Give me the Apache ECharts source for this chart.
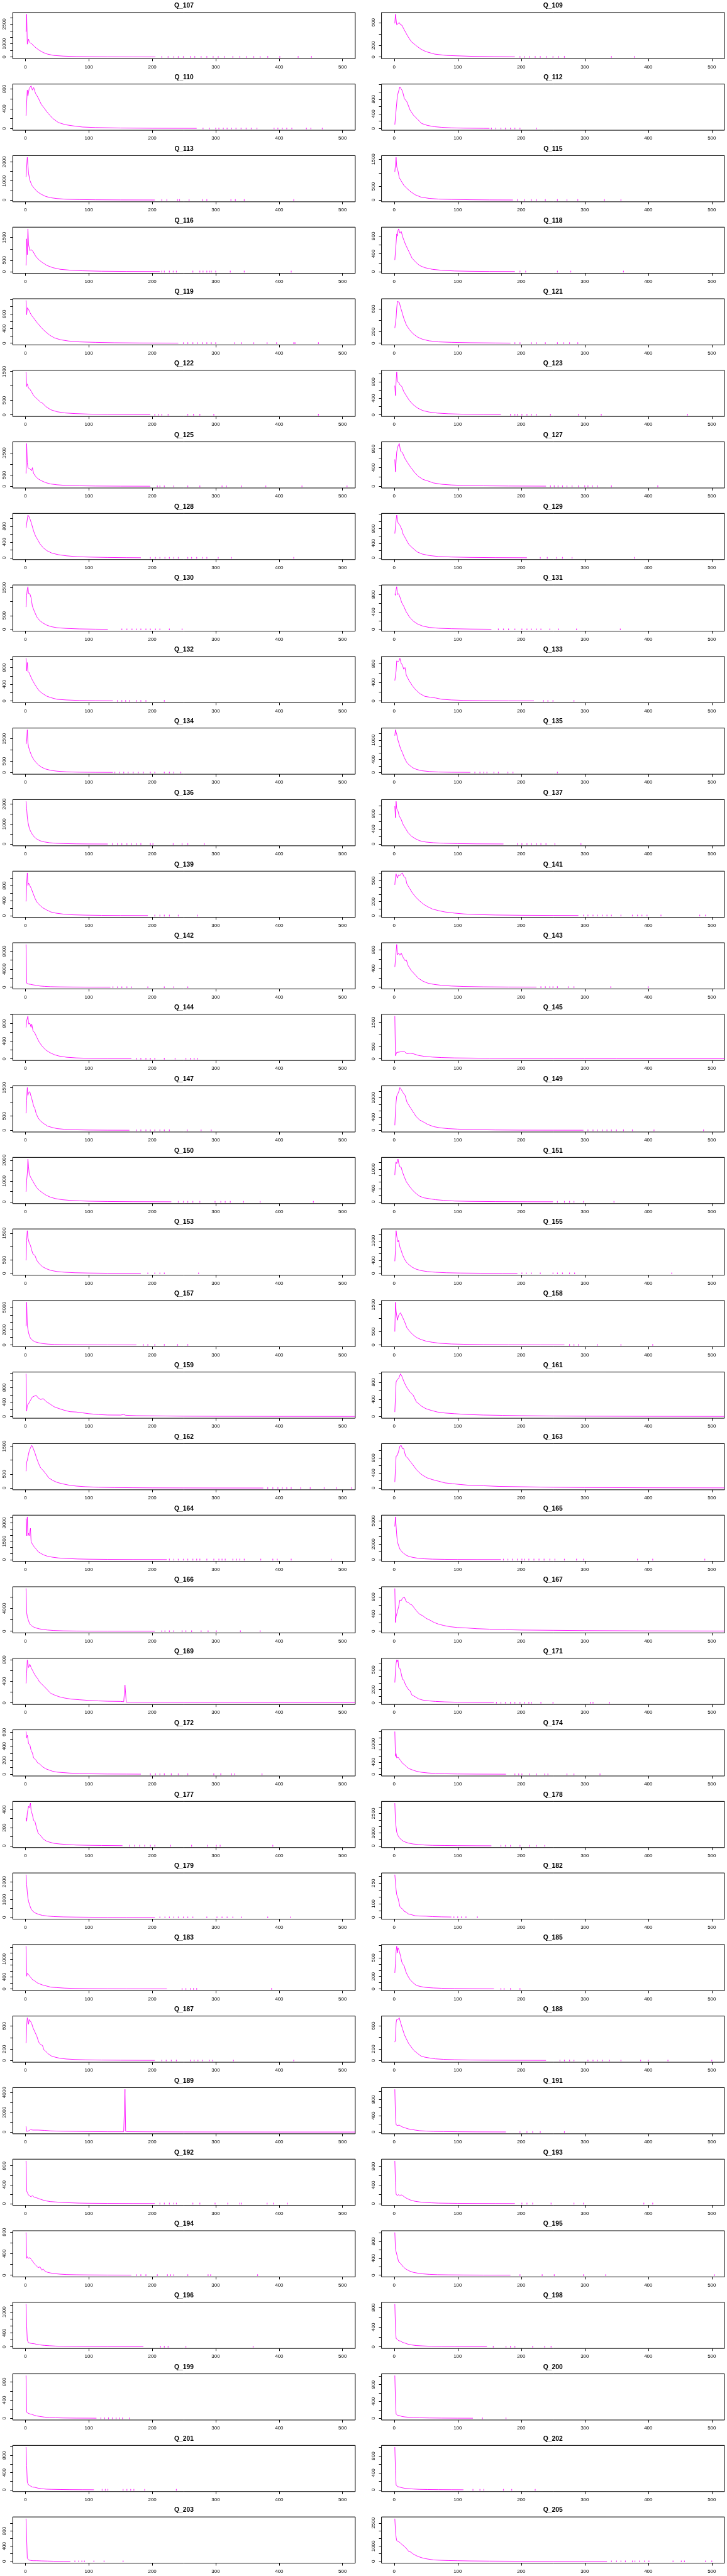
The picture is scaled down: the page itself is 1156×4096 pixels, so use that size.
<!DOCTYPE html>
<html>
<head>
<meta charset="utf-8">
<script src="https://cdn.jsdelivr.net/npm/echarts@6/dist/echarts.min.js"></script>
<style>html,body{margin:0;padding:0;background:#fff}#chart{width:1156px;height:4096px}</style>
</head>
<body>
<div id="chart"></div>
<script>
// ---- data (x, count); tail = x positions of isolated near-zero marks ----
const xTicks = [0, 100, 200, 300, 400, 500];

const Q_107 = {yStep: 500, yLabels: [0, 1000, 2500], line: [[1,1920],[2,3250],[3,975],[5,1360],[6,1160],[8,1060],[10,1010],[13,850],[17,680],[22,505],[28,340],[35,215],[45,114],[60,63],[80,32],[100,20],[130,10],[170,4],[205,2]], tail: [215,225,234,241,249,260,267,277,286,296,304,314,327,338,349,360,370,382,401,430,451]};
const Q_109 = {yStep: 200, yLabels: [0, 200, 600], line: [[1,585],[2,745],[4,560],[5,540],[8,600],[10,560],[12,555],[16,470],[21,368],[27,266],[35,194],[42,136],[50,93],[64,49],[83,26],[120,12],[157,6],[190,3]], tail: [198,205,213,222,230,240,250,259,268,342,378]};
const Q_110 = {yStep: 200, yLabels: [0, 400, 800], line: [[1,260],[3,777],[4,660],[6,810],[9,864],[11,777],[13,830],[16,710],[20,625],[25,490],[30,405],[36,305],[43,205],[52,121],[63,77],[75,54],[90,30],[110,20],[150,10],[200,5],[270,3]], tail: [280,290,300,305,312,318,325,332,340,348,356,365,392,398,405,412,420,443,450,468]};
const Q_112 = {yStep: 200, yLabels: [0, 400, 800], line: [[1,105],[3,505],[5,890],[7,1025],[9,1140],[10,1168],[13,1025],[16,820],[20,730],[25,505],[30,370],[36,268],[43,140],[52,86],[63,50],[75,32],[90,18],[110,10],[140,5],[150,3]], tail: [153,160,168,175,183,190,198,224]};
const Q_113 = {yStep: 500, yLabels: [0, 1000, 2000], line: [[1,1218],[3,2235],[4,1826],[5,1391],[7,1043],[10,783],[14,609],[19,435],[25,304],[32,191],[40,122],[50,78],[65,43],[85,26],[110,15],[150,8],[204,4]], tail: [215,223,240,243,258,279,286,324,331,345,423]};
const Q_115 = {yStep: 500, yLabels: [0, 500, 1500], line: [[1,1036],[3,1567],[4,1220],[6,1067],[8,823],[11,701],[15,549],[20,427],[26,305],[33,195],[42,110],[55,61],[70,37],[90,24],[120,12],[150,6],[187,3]], tail: [194,205,216,224,238,257,272,289,331,357]};
const Q_116 = {yStep: 500, yLabels: [0, 500, 1500], line: [[1,271],[2,1441],[3,746],[4,1880],[5,1185],[7,929],[9,965],[12,892],[16,688],[21,527],[27,395],[34,271],[43,176],[55,102],[70,66],[90,37],[120,18],[160,9],[212,4]], tail: [215,219,227,233,238,264,275,280,286,290,293,300,323,345,419]};
const Q_118 = {yStep: 200, yLabels: [0, 400, 800], line: [[1,262],[3,643],[4,849],[5,800],[6,924],[7,961],[9,867],[11,905],[14,755],[18,605],[23,456],[28,306],[34,213],[40,138],[48,90],[60,52],[75,30],[95,15],[120,8],[150,4],[190,2]], tail: [198,207,257,278,361]};
const Q_119 = {yStep: 200, yLabels: [0, 400, 800], line: [[1,1168],[2,777],[3,968],[5,923],[7,845],[10,754],[14,664],[19,550],[25,427],[31,323],[38,223],[45,150],[55,95],[68,59],[85,36],[110,23],[140,12],[180,6],[241,3]], tail: [249,256,264,271,279,286,293,300,330,341,360,381,396,423,425,462]};
const Q_121 = {yStep: 200, yLabels: [0, 200, 600], line: [[1,265],[3,440],[4,613],[5,731],[6,748],[8,716],[10,628],[12,556],[15,440],[19,323],[24,236],[30,163],[37,105],[45,67],[55,41],[70,23],[90,15],[120,8],[160,4],[183,2]], tail: [190,198,216,224,238,257,267,276,289]};
const Q_122 = {yStep: 500, yLabels: [0, 500, 1500], line: [[1,1483],[2,981],[3,1068],[5,923],[7,894],[10,779],[13,663],[17,577],[20,519],[24,433],[27,404],[32,288],[40,173],[50,104],[62,63],[78,40],[100,23],[130,12],[170,6],[197,3]], tail: [204,210,215,225,256,265,275,297,462]};
const Q_123 = {yStep: 200, yLabels: [0, 400, 800], line: [[1,707],[2,464],[3,808],[4,1038],[5,808],[7,788],[9,727],[12,687],[15,566],[19,464],[24,343],[30,242],[37,162],[45,101],[55,65],[68,40],[85,24],[110,13],[140,7],[168,3]], tail: [183,190,194,201,209,216,224,246,290,326,462]};
const Q_125 = {yStep: 500, yLabels: [0, 500, 1500], line: [[1,575],[2,1918],[3,1060],[4,836],[6,798],[8,761],[10,701],[11,836],[13,575],[16,448],[20,336],[25,254],[32,164],[40,104],[50,67],[65,37],[85,22],[110,12],[150,6],[197,3]], tail: [208,212,219,234,256,275,310,317,341,379,436,507]};
const Q_127 = {yStep: 200, yLabels: [0, 400, 800], line: [[1,575],[2,309],[3,540],[4,735],[6,860],[8,913],[10,750],[13,718],[17,593],[21,505],[26,405],[32,298],[38,213],[45,149],[53,114],[62,71],[75,43],[90,28],[110,18],[140,10],[180,6],[239,3]], tail: [246,252,258,265,272,280,290,300,305,312,320,342,415]};
const Q_128 = {yStep: 200, yLabels: [0, 400, 800], line: [[1,760],[3,972],[4,1082],[6,1035],[8,951],[10,846],[13,677],[16,551],[19,467],[23,354],[28,257],[34,181],[42,118],[52,80],[65,51],[82,29],[100,20],[130,10],[160,5],[182,3]], tail: [197,205,212,220,227,234,241,256,262,270,279,286,304,325,423]};
const Q_129 = {yStep: 200, yLabels: [0, 400, 800], line: [[1,663],[3,1027],[4,1168],[6,959],[9,890],[12,777],[14,650],[18,527],[23,368],[29,268],[36,164],[44,105],[55,64],[70,36],[90,23],[120,12],[160,6],[209,3]], tail: [230,241,256,265,280,378]};
const Q_130 = {yStep: 500, yLabels: [0, 500, 1500], line: [[1,810],[2,1230],[3,1440],[4,1542],[5,1290],[7,1290],[9,1141],[11,840],[14,660],[18,450],[22,330],[27,240],[33,162],[40,102],[50,60],[65,36],[85,18],[110,9],[130,5]], tail: [152,160,168,175,182,190,197,205,212,227,247]};
const Q_131 = {yStep: 200, yLabels: [0, 400, 800], line: [[1,818],[2,781],[3,914],[4,979],[5,800],[7,818],[9,743],[12,609],[15,533],[19,400],[24,285],[30,190],[37,122],[45,76],[55,46],[70,27],[90,16],[120,8],[153,4]], tail: [164,172,180,190,201,209,216,224,231,245,259,287,356]};
const Q_132 = {yStep: 200, yLabels: [0, 400, 800], line: [[1,1024],[2,720],[3,920],[4,700],[6,680],[8,600],[11,500],[14,420],[18,320],[22,240],[27,180],[33,120],[40,80],[50,40],[65,24],[85,12],[110,6],[138,3]], tail: [145,152,158,164,175,182,190,219]};
const Q_133 = {yStep: 200, yLabels: [0, 400, 800], line: [[1,438],[3,646],[4,862],[6,844],[8,870],[9,919],[11,808],[13,772],[15,682],[17,718],[19,556],[23,449],[28,341],[33,251],[40,162],[48,100],[57,79],[65,65],[75,36],[90,22],[110,12],[140,6],[180,3],[220,2]], tail: [235,242,250,283]};
const Q_134 = {yStep: 500, yLabels: [0, 500, 1500], line: [[1,1264],[2,1397],[3,1900],[4,1323],[5,1140],[7,954],[10,732],[13,584],[17,436],[21,325],[26,229],[32,155],[40,96],[50,59],[65,30],[85,15],[110,8],[138,4]], tail: [141,148,155,162,170,178,186,197,204,219,227,234,245]};
const Q_135 = {yStep: 200, yLabels: [0, 400, 1000], line: [[1,1134],[2,1318],[3,1303],[4,1174],[6,995],[8,867],[10,738],[13,611],[16,456],[20,303],[24,226],[29,149],[35,97],[43,56],[55,31],[70,16],[90,8],[120,4]], tail: [127,135,141,146,157,164,179,187,257]};
const Q_136 = {yStep: 500, yLabels: [0, 1000, 2000], line: [[1,2131],[2,1766],[3,1351],[4,1103],[6,813],[8,647],[11,481],[14,357],[18,249],[23,166],[30,108],[38,66],[48,41],[60,25],[80,12],[100,6],[130,3]], tail: [137,145,152,160,167,175,182,197,201,233,247,256,282]};
const Q_137 = {yStep: 200, yLabels: [0, 400, 800], line: [[1,998],[2,692],[3,1125],[4,933],[6,867],[8,736],[11,648],[14,517],[18,407],[22,298],[27,210],[33,144],[40,88],[50,53],[62,35],[78,22],[100,12],[130,6],[172,3]], tail: [194,201,209,216,224,231,239,253,294]};
const Q_139 = {yStep: 200, yLabels: [0, 400, 800], line: [[1,378],[2,845],[3,1138],[4,800],[5,867],[7,800],[9,733],[12,600],[15,467],[18,364],[22,289],[27,213],[33,156],[40,98],[48,67],[60,40],[75,22],[95,13],[120,7],[150,4],[193,2]], tail: [204,212,219,227,241,271]};
const Q_141 = {yStep: 100, yLabels: [0, 200, 500], line: [[1,440],[2,548],[3,596],[5,536],[7,584],[9,571],[11,596],[13,610],[15,560],[18,536],[20,452],[24,393],[28,333],[33,274],[38,226],[45,171],[52,131],[60,95],[70,71],[80,52],[95,36],[110,24],[130,15],[160,9],[200,5],[250,3],[290,2]], tail: [298,305,313,320,328,335,342,357,375,383,390,398,420,481,490]};
const Q_142 = {yStep: 2000, yLabels: [0, 4000, 8000], line: [[1,9481],[2,890],[5,700],[8,630],[12,520],[17,410],[23,260],[30,185],[40,110],[55,70],[75,40],[100,22],[134,10]], tail: [138,145,152,160,167,193,219,234,256]};
const Q_143 = {yStep: 200, yLabels: [0, 400, 800], line: [[1,432],[3,746],[4,914],[5,693],[7,729],[9,682],[11,729],[14,639],[17,568],[19,586],[22,461],[27,354],[32,282],[38,193],[45,129],[53,86],[62,61],[75,39],[90,25],[110,15],[140,8],[180,4],[224,3]], tail: [231,238,245,250,257,274,283,341,400]};
const Q_144 = {yStep: 200, yLabels: [0, 400, 800], line: [[1,713],[2,865],[4,972],[5,790],[7,807],[9,713],[10,790],[12,638],[15,581],[18,486],[22,372],[27,277],[32,201],[38,144],[45,95],[53,61],[65,34],[80,19],[100,10],[130,5],[167,3]], tail: [175,182,190,197,204,219,236,253,260,266,271]};
const Q_145 = {yStep: 500, yLabels: [0, 500, 1500], line: [[1,1762],[2,124],[4,262],[8,275],[12,296],[16,296],[20,206],[25,227],[30,206],[38,138],[48,96],[60,69],[75,48],[95,34],[120,28],[150,20],[200,12],[250,8],[300,5],[350,3],[420,2],[520,1]], tail: []};
const Q_147 = {yStep: 500, yLabels: [0, 500, 1500], line: [[1,600],[2,1055],[3,1506],[4,1235],[5,1323],[7,1365],[8,1265],[10,1118],[13,853],[15,765],[17,588],[20,441],[24,324],[29,235],[35,147],[42,100],[50,59],[62,35],[78,18],[100,9],[130,4],[164,2]], tail: [175,182,190,197,204,212,219,227,255,277,293]};
const Q_149 = {yStep: 200, yLabels: [0, 400, 1000], line: [[1,154],[2,565],[3,872],[4,1051],[6,1130],[8,1231],[9,1313],[11,1257],[14,1154],[17,1077],[20,872],[24,744],[29,590],[34,436],[40,318],[46,256],[53,179],[62,113],[72,77],[85,51],[100,36],[125,21],[160,10],[200,5],[250,3],[298,2]], tail: [305,313,320,328,335,342,350,361,375,409,487]};
const Q_150 = {yStep: 500, yLabels: [0, 1000, 2000], line: [[1,489],[2,1035],[3,1355],[4,2053],[5,1676],[6,1355],[8,1195],[11,1035],[14,874],[18,674],[22,553],[27,433],[33,313],[40,217],[48,152],[58,104],[70,72],[85,48],[100,32],[130,17],[170,9],[230,4]], tail: [241,249,256,264,275,299,308,315,323,344,370,454]};
const Q_151 = {yStep: 200, yLabels: [0, 400, 1000], line: [[1,819],[2,1140],[3,1216],[4,1166],[6,1303],[7,1191],[9,1064],[11,1054],[13,912],[16,758],[19,616],[23,504],[28,377],[33,275],[40,173],[47,122],[55,97],[65,66],[78,46],[95,25],[120,15],[160,8],[210,4],[250,3]], tail: [257,268,276,283,298,346]};
const Q_153 = {yStep: 500, yLabels: [0, 500, 1500], line: [[1,486],[2,1232],[3,1593],[4,1325],[6,1139],[8,1045],[10,859],[12,722],[15,672],[18,486],[22,361],[27,249],[33,174],[40,112],[50,68],[62,44],[78,25],[100,14],[130,6],[182,3]], tail: [193,204,212,219,273]};
const Q_155 = {yStep: 200, yLabels: [0, 400, 1000], line: [[1,372],[2,704],[3,1306],[4,1138],[6,959],[7,1010],[9,806],[11,704],[13,577],[16,449],[19,347],[23,270],[28,194],[34,133],[42,87],[52,56],[65,36],[82,20],[105,11],[135,6],[170,3],[194,2]], tail: [201,208,216,230,250,257,265,276,284,437]};
const Q_157 = {yStep: 1000, yLabels: [0, 2000, 5000], line: [[1,2511],[2,5689],[3,2622],[4,2511],[5,1622],[7,1067],[9,778],[12,578],[16,400],[21,289],[28,178],[36,111],[46,67],[60,44],[80,25],[100,15],[130,8],[175,4]], tail: [186,193,204,219,240,256]};
const Q_158 = {yStep: 500, yLabels: [0, 500, 1500], line: [[1,498],[2,1593],[3,1263],[5,921],[7,1108],[10,1201],[13,1045],[16,890],[20,641],[24,517],[29,392],[35,280],[42,205],[50,143],[60,100],[72,62],[90,37],[110,25],[140,14],[180,8],[230,4],[268,2]], tail: [276,283,290,320,357,407]};
const Q_159 = {yStep: 200, yLabels: [0, 400, 800], line: [[1,1182],[2,148],[3,310],[5,355],[8,448],[11,540],[14,563],[17,587],[20,517],[24,471],[28,494],[33,411],[38,355],[45,272],[52,226],[60,180],[70,134],[80,125],[90,102],[100,78],[115,55],[130,42],[150,40],[155,55],[158,35],[175,23],[200,19],[250,9],[300,6],[400,3],[520,2]], tail: []};
const Q_161 = {yStep: 200, yLabels: [0, 400, 800], line: [[1,105],[2,456],[3,808],[5,865],[7,885],[9,963],[10,998],[12,943],[15,828],[18,729],[21,651],[25,573],[30,495],[35,339],[38,308],[43,242],[50,183],[58,144],[68,105],[80,82],[95,66],[115,47],[140,35],[170,27],[200,20],[250,12],[300,8],[400,4],[520,2]], tail: []};
const Q_162 = {yStep: 500, yLabels: [0, 500, 1500], line: [[1,604],[2,933],[3,992],[4,1112],[6,1321],[8,1440],[10,1530],[12,1440],[15,1261],[18,1052],[21,872],[24,723],[28,633],[32,514],[37,364],[43,275],[50,203],[58,155],[68,108],[80,72],[95,48],[115,30],[140,18],[170,12],[200,8],[250,5],[300,3],[375,2]], tail: [382,390,398,405,412,419,434,449,471,490,514]};
const Q_163 = {yStep: 200, yLabels: [0, 400, 800], line: [[1,159],[2,512],[3,843],[5,865],[7,976],[9,1108],[11,1130],[13,1042],[15,1042],[18,843],[21,799],[25,711],[30,601],[35,490],[40,402],[45,336],[52,269],[60,225],[70,181],[80,137],[92,115],[105,93],[120,71],[140,62],[165,44],[200,35],[250,22],[300,14],[400,8],[520,5]], tail: []};
const Q_164 = {yStep: 500, yLabels: [0, 1500, 3000], line: [[1,3355],[2,1950],[3,3491],[4,1950],[5,2155],[6,1950],[8,2563],[9,1473],[11,1268],[14,1036],[17,859],[20,655],[24,518],[29,382],[35,273],[42,205],[52,136],[65,95],[82,55],[100,35],[130,20],[170,10],[223,5]], tail: [227,234,241,249,256,264,270,275,286,297,305,310,315,327,333,338,345,371,390,397,419,482]};
const Q_165 = {yStep: 1000, yLabels: [0, 2000, 5000], line: [[1,4257],[2,5505],[3,4365],[4,3183],[5,2323],[7,1785],[9,1355],[12,1032],[15,817],[19,559],[24,387],[30,280],[38,172],[48,108],[60,65],[80,35],[100,22],[130,12],[168,6]], tail: [172,179,186,194,201,205,212,220,228,236,245,253,268,287,298,383,407,489]};
const Q_166 = {yStep: 2000, yLabels: [0, 4000], line: [[1,7475],[2,3270],[3,2541],[5,1810],[7,1226],[10,934],[13,730],[17,555],[22,409],[28,292],[35,204],[45,117],[60,58],[80,30],[100,18],[130,10],[170,5],[204,3]], tail: [215,220,227,234,247,253,262,277,288,301,339,370]};
const Q_167 = {yStep: 200, yLabels: [0, 400, 800], line: [[1,994],[2,202],[3,338],[5,454],[7,571],[9,726],[11,707],[13,765],[16,796],[19,687],[22,668],[25,629],[28,610],[32,532],[36,454],[40,396],[45,358],[50,300],[56,259],[63,202],[70,163],[78,132],[88,104],[100,85],[115,74],[130,58],[150,47],[175,35],[200,27],[250,20],[300,14],[400,7],[520,4]], tail: []};
const Q_169 = {yStep: 200, yLabels: [0, 400, 800], line: [[1,360],[2,546],[3,794],[5,654],[7,716],[9,654],[11,608],[13,561],[16,499],[19,453],[22,391],[26,344],[30,298],[35,236],[40,174],[46,143],[53,112],[62,87],[72,68],[85,56],[100,43],[115,34],[130,28],[150,25],[155,19],[157,329],[159,12],[170,10],[200,8],[250,5],[300,4],[400,2],[520,1]], tail: []};
const Q_171 = {yStep: 100, yLabels: [0, 200, 500], line: [[1,306],[2,471],[3,597],[4,648],[5,622],[6,648],[7,534],[9,521],[11,445],[13,357],[15,344],[18,268],[22,205],[25,180],[28,116],[33,91],[38,61],[45,40],[55,28],[65,20],[80,13],[100,8],[130,4],[157,3]], tail: [161,168,175,183,190,198,205,212,216,231,250,309,313,339]};
const Q_172 = {yStep: 100, yLabels: [0, 200, 400, 600], line: [[1,610],[2,519],[3,557],[4,507],[5,436],[7,424],[9,341],[11,305],[13,233],[16,210],[19,167],[22,150],[25,126],[28,102],[32,79],[37,62],[43,43],[50,31],[60,24],[70,17],[85,12],[100,7],[130,4],[160,3],[182,2]], tail: [197,205,212,219,230,241,256,297,308,325,330,373]};
const Q_174 = {yStep: 200, yLabels: [0, 400, 1000], line: [[1,1403],[2,592],[3,674],[4,537],[6,564],[8,510],[10,455],[13,362],[16,318],[20,236],[24,181],[29,142],[35,99],[43,66],[53,44],[65,27],[80,16],[100,10],[130,6],[176,3]], tail: [190,196,201,213,224,237,242,272,283,324]};
const Q_177 = {yStep: 100, yLabels: [0, 200, 400], line: [[1,307],[2,270],[3,362],[4,399],[5,436],[6,418],[8,471],[9,390],[11,344],[13,280],[15,270],[17,215],[20,141],[24,114],[28,77],[33,53],[38,41],[45,28],[55,20],[65,15],[80,9],[100,6],[120,4],[153,2]], tail: [164,172,180,188,197,204,229,262,287,301,307,390]};
const Q_178 = {yStep: 500, yLabels: [0, 1000, 2500], line: [[1,3299],[2,1894],[3,1443],[4,1057],[6,799],[8,631],[11,477],[14,374],[18,284],[23,206],[30,142],[38,103],[48,64],[60,39],[80,26],[100,16],[130,8],[153,5]], tail: [168,175,183,198,213,224,237]};
const Q_179 = {yStep: 500, yLabels: [0, 1000, 2000], line: [[1,2393],[2,1832],[3,1412],[4,1084],[5,897],[7,664],[9,477],[12,336],[16,243],[21,168],[27,112],[35,75],[45,47],[60,28],[80,18],[100,12],[130,7],[160,4],[204,2]], tail: [212,220,227,234,241,249,256,264,286,302,310,318,327,341,382,418]};
const Q_182 = {yStep: 50, yLabels: [0, 100, 250], line: [[1,312],[2,257],[3,202],[4,166],[6,141],[7,139],[9,80],[11,68],[13,62],[16,44],[19,38],[22,26],[27,20],[33,12],[40,10],[50,9],[60,6],[75,4],[90,3]], tail: [94,100,106,113,131]};
const Q_183 = {yStep: 200, yLabels: [0, 400, 1000], line: [[1,1425],[2,425],[3,525],[5,480],[8,397],[11,313],[14,285],[18,212],[22,173],[27,134],[33,100],[40,61],[50,45],[62,28],[78,17],[100,10],[130,6],[160,4],[223,2]], tail: [247,253,260,265,270,388]};
const Q_185 = {yStep: 100, yLabels: [0, 200, 500], line: [[1,258],[2,406],[3,607],[4,685],[5,580],[6,661],[8,607],[10,526],[12,432],[14,392],[16,365],[18,285],[21,217],[25,150],[30,97],[35,56],[42,38],[50,24],[62,16],[75,11],[95,7],[120,4],[157,2]], tail: [168,173,183,198]};
const Q_187 = {yStep: 200, yLabels: [0, 200, 600], line: [[1,306],[2,600],[3,746],[4,702],[5,635],[6,716],[8,687],[10,644],[12,571],[15,497],[18,425],[21,322],[24,278],[27,263],[29,190],[32,161],[36,117],[41,79],[47,58],[55,38],[65,26],[78,18],[95,12],[120,8],[150,5],[180,3],[204,2]], tail: [215,222,230,238,260,266,272,279,290,295,328,423]};
const Q_188 = {yStep: 200, yLabels: [0, 200, 600], line: [[1,318],[2,362],[3,650],[4,710],[6,710],[8,739],[9,696],[11,623],[13,551],[16,449],[19,377],[23,290],[27,232],[31,174],[36,130],[42,78],[48,58],[56,43],[65,29],[78,20],[95,14],[120,9],[150,6],[190,4],[239,2]], tail: [261,268,276,283,305,313,320,328,339,357,388,400,431,500]};
const Q_189 = {yStep: 1000, yLabels: [0, 2000, 4000], line: [[1,576],[2,68],[4,102],[6,152],[8,237],[12,203],[20,203],[30,169],[40,119],[60,85],[80,68],[100,51],[130,34],[155,34],[156,68],[157,4322],[158,68],[160,40],[200,25],[250,15],[300,10],[400,5],[520,3]], tail: []};
const Q_191 = {yStep: 200, yLabels: [0, 400, 800], line: [[1,1047],[2,386],[3,181],[5,160],[8,172],[11,140],[14,119],[18,99],[22,78],[27,66],[33,49],[40,33],[50,25],[62,16],[78,12],[100,8],[130,5],[176,3]], tail: [198,209,218,230,268]};
const Q_192 = {yStep: 200, yLabels: [0, 400, 800], line: [[1,903],[2,269],[3,234],[5,181],[7,163],[9,145],[11,170],[14,135],[17,127],[20,110],[24,92],[28,74],[33,57],[40,42],[48,35],[58,25],[70,18],[85,11],[100,8],[130,5],[170,3],[204,2]], tail: [212,219,227,234,238,264,275,299,319,338,341,381,391,413]};
const Q_193 = {yStep: 200, yLabels: [0, 400, 800], line: [[1,916],[2,453],[3,201],[5,172],[7,194],[9,165],[11,190],[14,165],[17,136],[20,111],[24,86],[28,65],[33,50],[40,36],[48,25],[58,18],[70,11],[85,8],[100,6],[130,4],[160,3],[190,2]], tail: [201,209,218,247,283,298,393,407]};
const Q_194 = {yStep: 200, yLabels: [0, 400, 800], line: [[1,793],[2,311],[3,342],[5,311],[7,327],[9,295],[11,264],[13,233],[15,202],[18,165],[20,140],[23,155],[26,93],[28,115],[31,72],[35,53],[40,40],[47,28],[55,19],[65,12],[80,8],[100,5],[130,3],[167,2]], tail: [175,182,190,208,224,229,234,256,288,292,366]};
const Q_195 = {yStep: 200, yLabels: [0, 400, 800], line: [[1,1010],[2,614],[3,554],[5,436],[6,416],[7,317],[9,297],[12,238],[15,186],[19,139],[24,99],[30,67],[37,48],[45,32],[55,20],[68,12],[85,8],[110,5],[140,3],[183,2]], tail: [198,233,252,298,333,504]};
const Q_196 = {yStep: 200, yLabels: [0, 400, 1000], line: [[1,1229],[2,598],[3,188],[5,116],[7,106],[10,92],[14,87],[18,67],[23,53],[30,39],[38,29],[48,19],[60,14],[80,10],[100,7],[130,4],[186,2]], tail: [213,219,225,253,359]};
const Q_198 = {yStep: 200, yLabels: [0, 400, 800], line: [[1,872],[2,390],[3,168],[5,151],[7,123],[10,116],[13,89],[17,75],[21,55],[27,38],[35,24],[45,17],[58,10],[75,7],[95,5],[120,3],[146,2]], tail: [156,176,183,190,218,237,247]};
const Q_199 = {yStep: 200, yLabels: [0, 400, 800], line: [[1,939],[2,132],[4,114],[7,96],[10,88],[14,66],[18,52],[23,40],[30,26],[38,18],[48,11],[60,7],[80,4],[100,3],[112,2]], tail: [119,125,131,137,143,148,153,164]};
const Q_200 = {yStep: 200, yLabels: [0, 400, 800], line: [[1,1014],[2,421],[3,103],[5,72],[8,64],[12,44],[17,32],[23,24],[30,16],[40,12],[55,8],[75,5],[100,3],[124,2]], tail: [139,176]};
const Q_201 = {yStep: 200, yLabels: [0, 400, 800], line: [[1,994],[2,565],[3,175],[5,117],[8,90],[11,66],[15,58],[20,39],[26,27],[33,16],[42,12],[55,8],[70,5],[90,3],[108,2]], tail: [121,126,130,154,160,166,171,188,238]};
const Q_202 = {yStep: 200, yLabels: [0, 400, 800], line: [[1,1006],[2,453],[3,118],[5,79],[8,67],[12,51],[17,35],[23,28],[30,20],[40,12],[52,8],[70,5],[90,3],[109,2]], tail: [124,135,141,172,185,222]};
const Q_203 = {yStep: 200, yLabels: [0, 400, 800], line: [[1,1126],[2,592],[3,84],[5,40],[8,26],[12,18],[18,18],[25,13],[35,9],[45,5],[60,3],[71,2]], tail: [78,84,89,93,108,124,154]};
const Q_205 = {yStep: 500, yLabels: [0, 1000, 2500], line: [[1,2784],[2,2009],[3,1572],[4,1354],[6,1299],[8,1266],[10,1190],[13,1081],[16,972],[20,808],[23,644],[26,612],[30,480],[35,371],[40,284],[46,208],[53,153],[62,98],[72,76],[85,55],[100,44],[120,30],[150,20],[200,10],[250,6],[300,4],[335,3]], tail: [342,350,357,364,375,379,386,394,401,439,452,457,490,500]};

const panels = [
  ['Q_107', Q_107], ['Q_109', Q_109], ['Q_110', Q_110], ['Q_112', Q_112],
  ['Q_113', Q_113], ['Q_115', Q_115], ['Q_116', Q_116], ['Q_118', Q_118],
  ['Q_119', Q_119], ['Q_121', Q_121], ['Q_122', Q_122], ['Q_123', Q_123],
  ['Q_125', Q_125], ['Q_127', Q_127], ['Q_128', Q_128], ['Q_129', Q_129],
  ['Q_130', Q_130], ['Q_131', Q_131], ['Q_132', Q_132], ['Q_133', Q_133],
  ['Q_134', Q_134], ['Q_135', Q_135], ['Q_136', Q_136], ['Q_137', Q_137],
  ['Q_139', Q_139], ['Q_141', Q_141], ['Q_142', Q_142], ['Q_143', Q_143],
  ['Q_144', Q_144], ['Q_145', Q_145], ['Q_147', Q_147], ['Q_149', Q_149],
  ['Q_150', Q_150], ['Q_151', Q_151], ['Q_153', Q_153], ['Q_155', Q_155],
  ['Q_157', Q_157], ['Q_158', Q_158], ['Q_159', Q_159], ['Q_161', Q_161],
  ['Q_162', Q_162], ['Q_163', Q_163], ['Q_164', Q_164], ['Q_165', Q_165],
  ['Q_166', Q_166], ['Q_167', Q_167], ['Q_169', Q_169], ['Q_171', Q_171],
  ['Q_172', Q_172], ['Q_174', Q_174], ['Q_177', Q_177], ['Q_178', Q_178],
  ['Q_179', Q_179], ['Q_182', Q_182], ['Q_183', Q_183], ['Q_185', Q_185],
  ['Q_187', Q_187], ['Q_188', Q_188], ['Q_189', Q_189], ['Q_191', Q_191],
  ['Q_192', Q_192], ['Q_193', Q_193], ['Q_194', Q_194], ['Q_195', Q_195],
  ['Q_196', Q_196], ['Q_198', Q_198], ['Q_199', Q_199], ['Q_200', Q_200],
  ['Q_201', Q_201], ['Q_202', Q_202], ['Q_203', Q_203], ['Q_205', Q_205]
];

// ---- layout ----
const FONT = 'Liberation Sans, Arial, Helvetica, sans-serif';
const ROWS = 36;
const ROW_H = 4096 / ROWS;
const GRID_TOP = 19.9, GRID_H = 73.4, TITLE_TOP = 4.4;
const COLS = [{left: 20.2, width: 544.7}, {left: 606.6, width: 545.4}];
const LINE_COLOR = '#ff00ff';

const chart = echarts.init(document.getElementById('chart'), null, {renderer: 'canvas'});
const grid = [], xAxis = [], yAxis = [], series = [], title = [];

panels.forEach(([name, p], i) => {
  const r = Math.floor(i / 2), c = i % 2;
  const rowTop = r * ROW_H;
  grid.push({left: COLS[c].left, top: rowTop + GRID_TOP, width: COLS[c].width, height: GRID_H,
    show: true, borderColor: '#000', borderWidth: 1, backgroundColor: 'transparent', containLabel: false});
  const ymax = Math.max(...p.line.map(d => d[1]));
  const lo = -0.04 * ymax, hi = 1.04 * ymax;
  const ticks = [];
  for (let v = 0; v <= hi; v += p.yStep) ticks.push(v);
  xAxis.push({gridIndex: i, type: 'value', min: -20, max: 520, position: 'bottom',
    axisLine: {show: false, onZero: false}, splitLine: {show: false},
    axisTick: {show: true, customValues: xTicks, length: 4, lineStyle: {color: '#000', width: 1}},
    axisLabel: {show: true, customValues: xTicks, fontSize: 8, color: '#000', fontFamily: FONT, margin: 9,
      formatter: v => String(v)}});
  yAxis.push({gridIndex: i, type: 'value', min: lo, max: hi, position: 'left',
    axisLine: {show: false, onZero: false}, splitLine: {show: false},
    axisTick: {show: true, customValues: ticks, length: 4, lineStyle: {color: '#000', width: 1}},
    axisLabel: {show: true, customValues: p.yLabels, rotate: 90, fontSize: 8, color: '#000', fontFamily: FONT, margin: 9,
      formatter: v => String(v)}});
  series.push({type: 'line', xAxisIndex: i, yAxisIndex: i, data: p.line, showSymbol: false, symbol: 'none',
    lineStyle: {color: LINE_COLOR, width: 0.9}, silent: true, clip: true, animation: false});
  if (p.tail.length) {
    series.push({type: 'scatter', xAxisIndex: i, yAxisIndex: i, data: p.tail.map(x => [x, 1]),
      symbol: 'rect', symbolSize: [1.2, 2.6], itemStyle: {color: LINE_COLOR}, silent: true, animation: false});
  }
  title.push({text: name, left: COLS[c].left + COLS[c].width / 2, top: rowTop + TITLE_TOP, textAlign: 'center', padding: 0,
    textStyle: {fontSize: 10.3, fontWeight: 'bold', color: '#000', fontFamily: FONT}});
});

chart.setOption({backgroundColor: '#ffffff', animation: false, title, grid, xAxis, yAxis, series});
</script>
</body>
</html>
